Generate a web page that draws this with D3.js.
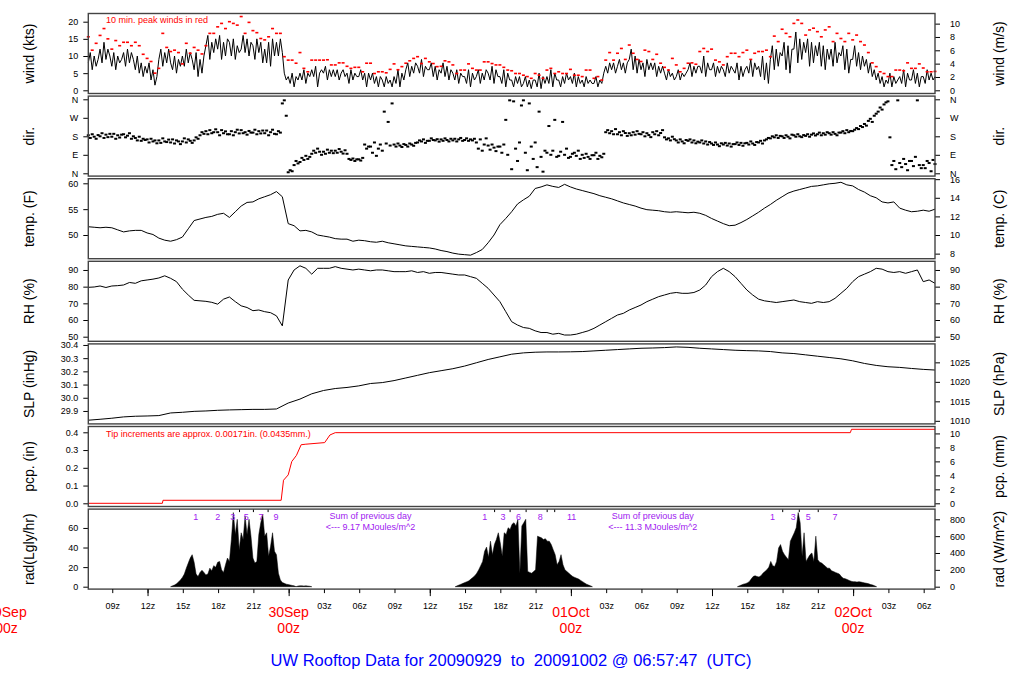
<!DOCTYPE html>
<html>
<head>
<meta charset="utf-8">
<script src="https://cdn.jsdelivr.net/npm/d3@7"></script>
<style>
  body { margin: 0; background: #fff; }
  text { font-family: "Liberation Sans", Arial, Helvetica, sans-serif; }
</style>
</head>
<body>
<svg id="chart" width="1024" height="700"></svg>
<script>
const startTime = Date.UTC(2009, 8, 29, 6, 57, 47)
const endTime = Date.UTC(2009, 9, 2, 6, 57, 47)

// wind speed (kts), every 10 min from start (one row = one hour)
const windKts = [
  8,11,6,10,7,9, 12,8,14,9,12,10, 7,11,6,10,8,9, 11,7,12,8,11,9,
  6,10,5,8,4,7, 5,8,3,6,1.5,4, 9,12,7,11,8,12, 8,6,10,5,9,7,
  10,7,12,8,11,9, 6,11,4,9,5,10, 13,16,9,14,11,15, 12,16,9,14,10,15,
  14,10,15,9,13,11, 12,16,11,15,10,14, 13,9,15,11,14,8, 12,8,14,7,15,10,
  14,10,15,11,5,3, 4,2,5,1,4,3, 5,3,6,2,5,4, 6,4,7,1,5,6,
  5,7,3,6,4,6, 4,6,3,5,6,4, 5,2,6,3,5,4, 4,6,3,5,1,5,
  3,5,2,4,1,4, 3,1,4,2,3,1, 4,2,6,1,5,3, 6,8,4,7,5,8,
  7,5,9,4,7,6, 6,8,4,7,3,6, 5,8,4,7,3,6, 5,3,6,2,5,4,
  4,2,6,1,5,3, 4,6,2,5,3,6, 5,3,7,2,6,4, 4,2,6,1,5,3,
  3,1,4,2,4,1, 2,4,1,3,0.5,3, 3,1,5,0.5,4,2, 4,2,6,1,5,3,
  3,1,4,2,5,3, 4,2,5,1,4,2, 3,1,4,2,3,2, 2,4,1,3,2,5,
  7,5,8,6,8,5, 7,9,6,8,5,8, 9,12,6,10,5,9, 6,8,4,9,6,8,
  6,8,4,7,5,7, 5,3,6,4,5,3, 4,6,3,5,4,5, 6,8,4,7,5,7,
  7,5,10,4,8,6, 6,8,4,7,5,7, 6,4,8,5,7,6, 5,8,3,7,4,6,
  7,5,9,4,8,6, 7,4,10,3,8,2, 9,13,6,12,7,11, 10,14,6,13,5,12,
  12,17,8,15,9,14, 11,15,7,14,8,13, 10,14,7,13,6,12, 9,12,7,14,8,11,
  10,13,6,12,5,9, 9,13,7,11,6,10, 7,9,5,8,4,6, 3,5,2,4,1,3,
  2,5,1,4,2,3, 4,2,6,1,5,3, 3,6,2,5,1,4, 4,2,6,3,5,3,
  4
]

// 10 min peak winds (kts), every 20 min
const peakKts = [
  15.6,11.7,13.7, 16,18,15, 12,14.5,13, 14,14,13, 14,13,10.5,
  9.3,8.4,5, 6.4,16.6,12.5, 11.3,11.7,11, 7.7,13.7,10.8, 12.5,11.7,10.6,
  13,16.6,16.6, 18.5,19.5,18, 20,19.5,19, 21.5,16.6,19.8, 17.4,16.8,15.1,
  14.7,15.6,18, 16.6,16.6,9.8, 8.8,8.8,7.9, 11,6.4,5.4, 8.8,8.8,8.8,
  8.8,8.9,7.4, 7.4,8,8, 7,6.4,6.7, 6.7,5.4,7.9, 7.9,4.9,5.4,
  5.4,5.1,6.1, 7.7,6,6.9, 7.9,8.6,9.3, 9.8,7.8,9.3, 8.3,7.8,6.9,
  7,8.6,8.3, 7.4,4.9,5.9, 5.9,7.7,6.4, 5.9,5.9,8.3, 8.3,7.8,7.4,
  7.4,6.7,5.9, 5.7,4.9,4.9, 4.4,4,3.5, 4.9,4.4,3.5, 5.9,6.4,4.9,
  5.4,4.9,4.9, 6.1,4.4,4.4, 4,5.9,5.9, 3.5,4,3, 8.8,11,8.8,
  10.8,12.2,9, 13.2,10.8,9, 8.4,11.7,11.3, 9,10.5,7.9, 6.7,5.9,9.3,
  7.4,5.4,6.4, 7.9,8,7.6, 11.3,12.2,11.3, 12,8.8,8.3, 7.4,9.8,10.8,
  10.8,9.8,11, 11.7,9,10.8, 11.3,11.3,11.7, 9.8,15.8,14.2, 17.8,16.6,15.6,
  19.5,20.5,19.5, 16.1,17.6,18.1, 17.1,15.6,17.6, 18.5,14.2,16.6, 15.1,14.2,16.6,
  14.7,16.1,14.2, 13.2,11,8, 6.9,5.4,4.9, 4,4,5.9, 5.9,5.7,8,
  6.4,6.4,7.7, 6.5,5.4,5.4, 5.5
]

// wind direction (deg), every 10 min (one row = one hour)
const windDir = [
  185,172,190,178,168,186, 180,195,172,188,176,192, 178,192,168,185,174,188, 190,175,183,195,168,180,
  172,160,178,158,168,162, 165,150,168,155,160,146, 160,148,170,155,152,164, 150,165,145,160,155,142,
  155,170,150,165,158,148, 160,175,168,185,200,192, 205,190,210,195,200,214, 200,185,210,195,204,190,
  190,205,185,200,212,194, 210,195,200,188,206,198, 198,212,190,205,194,208, 195,208,185,200,212,192,
  190,205,198,340,355,280, 5,15,10,40,60,48, 55,75,65,85,70,80, 95,110,100,120,105,90,
  105,95,115,100,110,98, 110,100,118,105,96,112, 95,70,65,72,60,68, 68,62,75,140,120,130,
  130,100,150,85,120,140, 110,300,145,250,135,340, 140,130,145,135,128,142, 138,130,145,140,134,148,
  150,160,155,165,148,158, 158,170,162,160,166,154, 165,158,170,162,155,168, 160,168,155,165,172,158,
  162,170,158,165,160,168, 150,120,165,110,140,170, 135,115,140,125,108,130, 130,100,140,260,90,355,
  20,350,120,60,150,330, 355,100,15,340,130,70, 150,30,300,80,8,110, 100,230,90,110,260,80,
  85,105,250,90,120,75, 80,95,100,85,110,70, 90,75,95,80,70,88, 88,100,70,85,78,95,
  200,210,195,205,190,215, 190,200,185,205,196,182, 195,185,200,188,205,192, 190,200,180,195,186,176,
  200,190,205,185,196,210, 175,165,170,160,178,166, 160,150,165,155,146,162, 158,165,150,160,146,154,
  150,160,145,155,140,152, 145,138,150,140,132,146, 140,148,135,145,130,142, 142,150,138,148,134,146,
  148,140,155,145,138,152, 150,158,145,160,165,172, 170,180,175,185,172,182, 180,172,185,178,170,188,
  185,178,190,180,176,186, 182,190,178,188,194,184, 190,198,185,195,188,200, 195,188,200,192,185,198,
  198,205,195,210,200,206, 205,212,220,215,230,225, 240,232,255,265,250,280, 290,300,320,310,335,345,
  350,175,40,60,20,355, 50,30,70,45,15,60, 60,35,80,355,40,25, 40,25,60,50,10,65,
  45
]

// temperature (F), every 30 min
const tempF = [
  51.6,51.5, 51.4,51.5, 51.4,51.0, 50.6,50.8, 50.9,50.9, 50.4,50.1, 49.4,49.0, 48.8,49.1,
  49.6,51.2, 52.8,53.1, 53.4,53.6, 54.0,54.2, 53.4,54.5, 55.6,56.3, 56.4,57.0, 57.4,57.8,
  58.4,57.4, 52.2,51.8, 50.8,50.9, 50.6,50.0, 49.8,49.6, 49.3,49.2, 49.2,48.8, 49.0,48.9,
  48.7,48.6, 48.8,48.5, 48.3,48.1, 47.9,47.8, 47.7,47.6, 47.5,47.3, 47.0,46.8, 46.5,46.3,
  46.2,46.1, 46.6,47.2, 48.5,50.0, 52.0,53.2, 54.5,56.0, 56.8,57.5, 59.0,59.3, 59.7,59.4,
  59.2,59.8, 59.3,58.9, 58.6,58.3, 58.0,57.6, 57.3,57.0, 56.6,56.2, 55.9,55.6, 55.2,54.9,
  54.8,54.7, 54.5,54.4, 54.5,54.4, 54.3,54.4, 54.2,53.8, 53.2,52.7, 52.2,51.8, 51.9,52.4,
  53.0,53.7, 54.4,55.2, 55.9,56.7, 57.4,58.1, 58.5,58.8, 59.1,59.4, 59.5,59.7, 59.9,60.0,
  60.2,59.7, 59.5,58.8, 58.3,57.6, 57.2,56.4, 56.2,56.4, 55.2,54.8, 54.5,54.6, 54.8,54.6,
  55.0
]

// relative humidity (%), every 30 min
const relHum = [
  79.6,79.8, 80.4,79.5, 80.4,80.6, 81.0,82.5, 82.0,83.5, 84.0,84.5, 85.2,86.5, 85.0,83.0,
  78.5,75.0, 71.8,71.5, 71.2,70.6, 69.5,72.5, 73.8,71.0, 68.5,67.5, 65.6,66.0, 65.0,64.4,
  62.5,56.5, 84,90, 92.5,91, 87.5,91, 91,91, 92,91, 90.5,90, 90.5,90,
  89.5,90, 90,89.5, 89,89, 89,89.5, 88.5,89, 88,88.5, 88.5,88, 87.5,87,
  87,86, 85,82, 79,75, 71,65, 59,57, 55.5,55, 53.5,52.5, 52.5,51.5,
  52,51, 51,51.5, 52.5,53.5, 55,57, 59,61, 63,64, 66,67.5, 69,71,
  72.5,74, 75,76, 76.5,76, 76,76.5, 78,81, 86,89, 91,89, 86,82,
  78,75, 72.5,71.5, 71,70.5, 71,71.5, 72,71, 70.5,70, 71,70.5, 71,73,
  76,79, 83,86, 87.5,89, 91,90.5, 89,88.5, 89,88, 89,90, 83,84,
  82
]

// sea level pressure (inHg), hourly
const slpInHg = [
  29.83,29.837,29.845,29.855,29.86,29.862,29.865,29.885,29.89,29.897,
  29.9,29.905,29.908,29.91,29.912,29.912,29.915,29.96,29.99,30.03,
  30.055,30.07,30.078,30.09,30.108,30.115,30.13,30.15,30.17,30.19,
  30.205,30.22,30.24,30.265,30.29,30.31,30.33,30.34,30.345,30.347,
  30.347,30.348,30.35,30.355,30.36,30.365,30.37,30.375,30.377,30.38,
  30.385,30.382,30.375,30.37,30.365,30.36,30.357,30.355,30.35,30.34,
  30.335,30.325,30.315,30.305,30.295,30.28,30.26,30.245,30.235,30.23,
  30.222,30.215,30.21
]

// accumulated precipitation (in) at hours from start
const pcpHours = [0, 6.3, 6.35, 16.4, 16.6, 17.0, 17.3, 17.7, 18.1, 18.5, 20.1, 20.55, 21.0, 64.8, 64.9, 72]
const pcpInches = [0, 0, 0.017, 0.017, 0.13, 0.16, 0.235, 0.27, 0.33, 0.333, 0.342, 0.385, 0.398, 0.398, 0.417, 0.417]

// solar radiation (W/m^2), every 10 min, one array per day
const radStartHours = [7.0, 31.2, 55.2]
const radDay1 = [
  0,10,20,35,55,80,110,150,220,280,340,380,290,150,120,170,195,170,140,150,
  220,190,250,230,290,300,200,170,260,340,300,560,880,620,800,440,640,560,840,620,
  800,600,340,280,300,620,760,860,600,640,360,480,640,420,380,160,80,50,40,30,
  25,20,15,10,0,8,10,10,8,10,8,5,0
]
const radDay2 = [
  0,10,20,30,40,50,60,70,90,110,130,160,200,250,300,420,470,350,540,380,
  500,560,640,520,360,640,620,700,680,740,760,720,800,160,720,760,800,180,170,160,
  180,200,600,590,580,560,570,540,540,500,440,380,260,300,380,260,200,180,160,140,
  120,110,100,90,75,60,45,30,20,10,0
]
const radDay3 = [
  0,10,20,30,35,45,60,90,120,130,120,115,130,160,180,200,230,300,250,240,
  300,460,500,420,380,350,320,540,590,640,700,880,760,360,640,300,340,380,400,300,
  600,320,290,280,260,240,220,220,190,180,170,160,150,120,100,95,85,75,65,60,
  60,55,60,55,50,45,40,35,25,20,10,0
]
const radMarkHours = [9.13, 11.0, 12.29, 12.86, 13.43, 14.04, 14.69, 15.29, 15.97,
  33.72, 34.55, 35.27, 35.87, 36.58, 37.23, 38.44, 39.02, 39.66, 41.1,
  58.19, 59.05, 59.95, 60.46, 61.22, 62.07, 63.49]
const radMarkLabels = ["1","2","3","","5","","7","","9",
  "1","","3","","6","","8","","","11",
  "1","","3","","5","","7"]
const radSumHours = [24, 48]
const radSumValues = ["9.17", "11.3"]

const svg = d3.select("#chart")
const hourMs = 3600000
const atHour = h => new Date(startTime + h * hourMs)
const fontFamily = '"Liberation Sans", Arial, Helvetica, sans-serif'

const x = d3.scaleUtc()
  .domain([new Date(startTime), new Date(endTime)])
  .range([88.3, 935])

const panelH = 80
const panelTop = i => 13.5 + i * 82.6
const dirFmt = d => ({0: "N", 90: "E", 180: "S", 270: "W", 360: "N"})[d]
const intFmt = d3.format("d")
const oneFmt = d3.format(".1f")
const ident = v => v

const panels = [
  {left: "wind (kts)", right: "wind (m/s)", domain: [-0.93, 22.39],
   leftTicks: [0,5,10,15,20], rightTicks: [0,2,4,6,8,10], toLeft: ident, toRight: v => v * 0.514444,
   leftFmt: intFmt, rightFmt: intFmt},
  {left: "dir.", right: "dir.", domain: [-13.6, 375.6],
   leftTicks: [0,90,180,270,360], rightTicks: [0,90,180,270,360], toLeft: ident, toRight: ident,
   leftFmt: dirFmt, rightFmt: dirFmt},
  {left: "temp. (F)", right: "temp. (C)", domain: [45.42, 60.89],
   leftTicks: [50,55,60], rightTicks: [8,10,12,14,16], toLeft: ident, toRight: v => (v - 32) * 5 / 9,
   leftFmt: intFmt, rightFmt: intFmt},
  {left: "RH (%)", right: "RH (%)", domain: [47.24, 95.2],
   leftTicks: [50,60,70,80,90], rightTicks: [50,60,70,80,90], toLeft: ident, toRight: ident,
   leftFmt: intFmt, rightFmt: intFmt},
  {left: "SLP (inHg)", right: "SLP (hPa)", domain: [29.802, 30.408],
   leftTicks: [29.9,30.0,30.1,30.2,30.3,30.4], rightTicks: [1010,1015,1020,1025], toLeft: ident, toRight: v => v * 33.8639,
   leftFmt: oneFmt, rightFmt: intFmt},
  {left: "pcp. (in)", right: "pcp. (mm)", domain: [-0.018, 0.4327],
   leftTicks: [0,0.1,0.2,0.3,0.4], rightTicks: [0,2,4,6,8,10], toLeft: ident, toRight: v => v * 25.4,
   leftFmt: oneFmt, rightFmt: intFmt},
  {left: "rad(Lgly/hr)", right: "rad (W/m^2)", domain: [-28.5, 921],
   leftTicks: [0,20,40,60], rightTicks: [0,200,400,600,800], toLeft: v => v / 11.622, toRight: ident,
   leftFmt: intFmt, rightFmt: intFmt}
]

const yScales = panels.map((p, i) => {
  const top = panelTop(i)
  const y = d3.scaleLinear().domain(p.domain).range([top + panelH, top])
  const yl = d3.scaleLinear().domain(p.domain.map(p.toLeft)).range(y.range())
  const yr = d3.scaleLinear().domain(p.domain.map(p.toRight)).range(y.range())

  const gl = svg.append("g").attr("transform", "translate(88.3,0)")
    .call(d3.axisLeft(yl).tickValues(p.leftTicks).tickFormat(p.leftFmt).tickSize(5).tickPadding(5))
  const gr = svg.append("g").attr("transform", "translate(935,0)")
    .call(d3.axisRight(yr).tickValues(p.rightTicks).tickFormat(p.rightFmt).tickSize(5).tickPadding(10))
  for (const g of [gl, gr]) {
    g.select(".domain").remove()
    g.attr("font-size", 9).attr("font-family", fontFamily)
    g.selectAll("line").attr("stroke", "#000")
  }

  svg.append("text")
    .attr("transform", `translate(29,${top + panelH / 2}) rotate(-90)`)
    .attr("text-anchor", "middle").attr("dy", "0.35em")
    .attr("font-size", 14).text(p.left)
  svg.append("text")
    .attr("transform", `translate(999,${top + panelH / 2}) rotate(-90)`)
    .attr("text-anchor", "middle").attr("dy", "0.35em")
    .attr("font-size", 14).text(p.right)
  return y
})

const [yWind, yDir, yTemp, yRH, ySLP, yPcp, yRad] = yScales

// wind
svg.append("path")
  .datum(windKts)
  .attr("fill", "none").attr("stroke", "#000").attr("stroke-width", 1)
  .attr("d", d3.line().x((d, i) => x(atHour(i / 6))).y(d => yWind(d)))

svg.selectAll(".peak")
  .data(peakKts)
  .enter().append("rect")
  .attr("class", "peak")
  .attr("x", (d, i) => x(atHour(i / 3)) - 1.5)
  .attr("y", d => yWind(d) - 0.8)
  .attr("width", 3).attr("height", 1.6)
  .attr("fill", "#ff0000")

svg.append("text").attr("x", 106).attr("y", 23)
  .attr("font-size", 9).attr("fill", "#ff0000")
  .text("10 min. peak winds in red")

// direction
svg.selectAll(".dir")
  .data(windDir)
  .enter().append("rect")
  .attr("class", "dir")
  .attr("x", (d, i) => x(atHour(i / 6)) - 1.5)
  .attr("y", d => yDir(d) - 1)
  .attr("width", 3).attr("height", 2)
  .attr("fill", "#000")

// temperature, humidity, pressure
svg.append("path").datum(tempF)
  .attr("fill", "none").attr("stroke", "#000").attr("stroke-width", 1)
  .attr("d", d3.line().x((d, i) => x(atHour(i * 0.5))).y(d => yTemp(d)))

svg.append("path").datum(relHum)
  .attr("fill", "none").attr("stroke", "#000").attr("stroke-width", 1)
  .attr("d", d3.line().x((d, i) => x(atHour(i * 0.5))).y(d => yRH(d)))

svg.append("path").datum(slpInHg)
  .attr("fill", "none").attr("stroke", "#000").attr("stroke-width", 1)
  .attr("d", d3.line().x((d, i) => x(atHour(i))).y(d => ySLP(d)))

// precipitation
svg.append("path").datum(pcpInches)
  .attr("fill", "none").attr("stroke", "#ff0000").attr("stroke-width", 1)
  .attr("d", d3.line().x((d, i) => x(atHour(pcpHours[i]))).y(d => yPcp(d)))

svg.append("text").attr("x", 106).attr("y", 436.5)
  .attr("font-size", 9).attr("fill", "#ff0000")
  .text("Tip increments are approx. 0.00171in. (0.0435mm.)")

// radiation
const radArea = start => d3.area()
  .x((d, i) => x(atHour(start + i / 6)))
  .y0(yRad(0))
  .y1(d => yRad(d))

;[radDay1, radDay2, radDay3].forEach((day, k) => {
  svg.append("path").datum(day)
    .attr("fill", "#000").attr("stroke", "#000").attr("stroke-width", 0.5)
    .attr("d", radArea(radStartHours[k]))
})

const radTop = panelTop(6)
radMarkHours.forEach((h, i) => {
  if (radMarkLabels[i]) {
    svg.append("text").attr("x", x(atHour(h))).attr("y", radTop + 10.5)
      .attr("text-anchor", "middle").attr("font-size", 9).attr("fill", "#a020f0")
      .text(radMarkLabels[i])
  } else {
    svg.append("line").attr("x1", x(atHour(h))).attr("x2", x(atHour(h)))
      .attr("y1", radTop).attr("y2", radTop + 3).attr("stroke", "#000")
  }
})

radSumHours.forEach((h, i) => {
  svg.append("text").attr("x", x(atHour(h))).attr("y", radTop + 9.5)
    .attr("text-anchor", "middle").attr("font-size", 9).attr("fill", "#a020f0")
    .text("Sum of previous day")
  svg.append("text").attr("x", x(atHour(h))).attr("y", radTop + 20.5)
    .attr("text-anchor", "middle").attr("font-size", 9).attr("fill", "#a020f0")
    .text("<--- " + radSumValues[i] + " MJoules/m^2")
})

// panel frames
panels.forEach((p, i) => {
  svg.append("rect")
    .attr("x", 88.3).attr("y", panelTop(i))
    .attr("width", 935 - 88.3).attr("height", panelH)
    .attr("fill", "none").attr("stroke", "#444").attr("stroke-width", 1.4)
})

// time axis
const axisY = panelTop(6) + panelH
const hourFmt = d3.utcFormat("%Hz")
const gx = svg.append("g").attr("transform", `translate(0,${axisY})`)
  .call(d3.axisBottom(x).ticks(d3.utcHour.every(3)).tickSize(4).tickPadding(10)
    .tickFormat(d => d.getUTCHours() === 0 ? "" : hourFmt(d)))
gx.select(".domain").remove()
gx.attr("font-size", 9).attr("font-family", fontFamily)

const gx2 = svg.append("g").attr("transform", `translate(0,${axisY})`)
  .call(d3.axisBottom(x).ticks(d3.utcHour.every(12)).tickSize(7).tickFormat(""))
gx2.select(".domain").remove()

const dayFmt = d3.utcFormat("%d%b")
const days = d3.utcDay.range(new Date(Date.UTC(2009, 8, 29)), new Date(endTime))
days.forEach(d => {
  svg.append("text").attr("x", x(d)).attr("y", 617)
    .attr("text-anchor", "middle").attr("font-size", 14).attr("fill", "#ff0000")
    .text(dayFmt(d))
  svg.append("text").attr("x", x(d)).attr("y", 633)
    .attr("text-anchor", "middle").attr("font-size", 14).attr("fill", "#ff0000")
    .text("00z")
})

svg.append("text").attr("x", 511).attr("y", 666)
  .attr("text-anchor", "middle").attr("font-size", 16.5).attr("fill", "#0000ff")
  .style("white-space", "pre")
  .text("UW Rooftop Data for 20090929  to  20091002 @ 06:57:47  (UTC)")
</script>
</body>
</html>
